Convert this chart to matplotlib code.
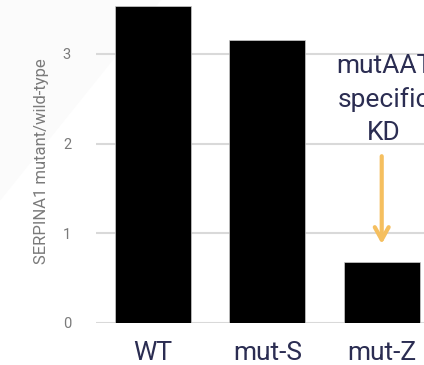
import matplotlib.pyplot as plt
from matplotlib.patches import Polygon

plt.rcParams['font.family'] = ['Roboto', 'DejaVu Sans']

# donnees
groupes = ['WT', 'mut-S', 'mut-Z']
ratios = [3.53, 3.15, 0.68]

texte_col = '#2b2d52'
gris = '#7a7a7a'
orange = '#f5bf5f'

fig = plt.figure(figsize=(4.24, 3.65), dpi=100)
# leger fond diagonal en haut a gauche
fig.patches.append(Polygon([[0, 1], [0.38, 1], [0, 0.45]], closed=True,
                           transform=fig.transFigure, facecolor='#fbfbfb',
                           edgecolor='none', zorder=-5))

ax = fig.add_axes([96 / 424, 42 / 365, 1 - 96 / 424, 323 / 365])
ax.patch.set_alpha(0)
x = range(len(groupes))
ax.bar(x, ratios, width=0.665, color='black', edgecolor='#cccccc', linewidth=0.5, zorder=3)

ax.set_xlim(-0.5, 2.37)
ax.set_ylim(0, 3.6)
ax.set_yticks([0, 1, 2, 3])
ax.grid(axis='y', color='#d9d9d9', linewidth=1.5, zorder=0)
for s in ax.spines.values():
    s.set_visible(False)
ax.tick_params(axis='y', length=0, pad=18, labelsize=10.5, labelcolor=gris)
ax.tick_params(axis='x', length=0, pad=13, labelsize=19, labelcolor=texte_col)
ax.set_xticks(list(x))
ax.set_xticklabels(groupes)
ax.set_ylabel('SERPINA1 mutant/wild-type', fontsize=12, color=gris, labelpad=10)

# annotation knock-down
ax.text(2.02, 2.49, 'mutAAT\nspecific\nKD', ha='center', va='center', fontsize=19,
        color=texte_col, linespacing=1.45, clip_on=False)
ax.annotate('', xy=(2, 0.85), xytext=(2, 1.89),
            arrowprops=dict(arrowstyle='->,head_length=0.9,head_width=0.5',
                            color=orange, lw=3))

fig.savefig('out.png', dpi=100)
